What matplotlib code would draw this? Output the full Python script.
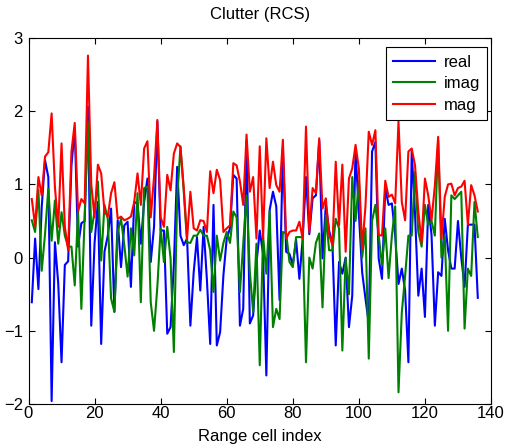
import matplotlib.pyplot as plt
import numpy as np

plt.rcParams['font.family'] = ['Liberation Sans', 'DejaVu Sans']

cell = np.arange(1, 137)

real = [
    -0.61, 0.26, -0.43, 0.69, 1.33, 1.10, -1.96, 0.21, -0.35, -1.43,
    -0.10, -0.05, 1.26, 1.77, 0.15, 0.47, 0.50, 2.06, -0.93, 0.20,
    0.76, -1.18, 0.08, 0.30, 0.67, -0.74, 0.51, -0.13, 0.44, 0.49,
    -0.40, 0.76, 0.74, 0.19, 0.76, 1.08, -0.06, 0.42, 1.86, 0.37,
    0.37, -1.04, -0.95, -0.10, 1.24, 0.30, 0.17, 0.26, -0.93, -0.20,
    0.28, -0.45, 0.42, -0.30, -1.18, 0.72, -1.20, -1.02, -0.24, 0.26,
    0.40, 1.13, 1.08, -0.93, -0.70, 1.60, -0.90, -0.79, -0.08, 0.37,
    0.05, -1.61, 0.65, 0.90, 0.70, -0.58, 1.50, 0.08, 0.05, -0.10,
    0.24, -0.29, 0.26, 1.10, 0.32, 0.81, 0.85, 1.60, -0.01, 0.72,
    0.37, 0.19, -1.20, -0.06, -0.22, 0.00, -0.95, -0.52, 1.47, 0.60,
    -0.20, -0.56, -0.90, 1.45, 1.58, -0.01, -0.29, 0.95, 0.72, 0.74,
    0.30, -0.36, -0.15, -0.45, -1.43, 1.45, 0.60, -0.52, -0.15, -0.81,
    0.72, 0.31, -0.93, -0.20, -0.25, 0.53, 0.10, -0.15, -0.15, 0.50,
    0.00, -0.40, 0.45, 0.45, 0.45, -0.55,
]

imag = [
    0.51, 0.35, 0.92, -0.18, 0.32, 0.94, 0.23, 0.78, 0.19, 0.62,
    0.30, 0.15, 0.15, -0.38, 0.63, -0.70, 0.55, 1.86, 0.35, 0.63,
    1.04, -0.04, 0.72, 0.53, -0.56, -0.74, 0.35, 0.53, 0.17, -0.26,
    0.40, 0.03, 0.88, -0.61, 0.95, 0.97, -0.61, -1.00, -0.40, 0.40,
    -0.06, 0.42, -0.01, -1.29, 0.81, 1.52, 0.90, 0.21, 0.20, 0.30,
    0.30, 0.38, 0.30, 0.30, 0.10, -0.47, 0.30, -0.04, 0.20, 0.35,
    0.20, 0.63, 0.55, -0.47, 0.20, 0.85, -0.20, -0.74, 0.19, -1.47,
    0.30, -0.22, 0.63, -0.95, -0.70, -0.84, 0.35, 0.33, -0.06, -0.13,
    0.28, 0.28, 0.28, -1.43, 0.00, -0.15, 0.20, 0.33, -0.68, 0.58,
    0.10, 0.10, 0.53, 0.40, -1.27, -0.01, -0.50, 1.10, 0.50, 1.05,
    0.00, 0.40, -1.38, 0.50, 0.72, 0.30, -0.10, 0.40, -0.28, 0.30,
    0.70, -1.84, -0.75, -0.25, 0.30, 0.30, 1.17, 0.35, 0.15, 0.72,
    0.45, 0.50, 0.30, 1.60, 0.00, 0.30, -1.00, 0.85, 0.80, 0.85,
    0.90, -0.97, -0.15, -0.25, 0.76, 0.28,
]

mag = [
    0.80, 0.43, 1.10, 0.85, 1.38, 1.44, 1.97, 0.96, 0.42, 1.56,
    0.42, 0.10, 1.45, 1.84, 0.63, 0.80, 0.74, 2.76, 1.00, 0.55,
    1.27, 1.15, 0.63, 0.56, 0.88, 1.03, 0.53, 0.56, 0.51, 0.53,
    0.56, 0.76, 1.15, 0.72, 1.49, 1.59, 0.55, 1.10, 1.88, 0.55,
    0.42, 1.13, 0.92, 1.42, 1.56, 1.51, 0.95, 0.26, 0.90, 0.40,
    0.37, 0.51, 0.50, 0.35, 1.18, 0.88, 1.20, 1.06, 0.35, 0.40,
    0.44, 1.29, 1.26, 1.04, 0.72, 1.68, 0.90, 1.10, 0.26, 1.52,
    0.26, 1.63, 0.95, 1.31, 0.99, 0.90, 1.61, 0.26, 0.35, 0.37,
    0.37, 0.49, 0.26, 1.79, 0.35, 0.95, 0.88, 1.63, 0.67, 0.81,
    0.31, 0.17, 1.31, 0.44, 1.27, 0.08, 1.08, 1.22, 1.54, 1.22,
    0.12, 0.70, 1.72, 1.54, 1.74, 0.31, 0.30, 1.05, 0.83, 0.86,
    0.74, 1.86, 0.76, 0.51, 1.45, 1.49, 1.26, 0.63, 0.21, 1.08,
    0.85, 0.51, 0.98, 1.65, 0.25, 0.83, 1.00, 1.01, 0.85, 0.95,
    0.97, 1.05, 0.45, 0.99, 0.85, 0.63,
]

fig = plt.figure(figsize=(5.05, 4.44), dpi=100)
ax = fig.add_axes([28.5 / 505, 1 - 404 / 444, 462.5 / 505, 366 / 444])

ax.plot(cell, real, color=(0, 0, 1), lw=1.5, label='real')
ax.plot(cell, imag, color=(0, 0.5, 0), lw=1.5, label='imag')
ax.plot(cell, mag, color=(1, 0, 0), lw=1.5, label='mag')

ax.set_xlim(0, 140)
ax.set_ylim(-2, 3)
ax.set_xticks(np.arange(0, 141, 20))
ax.set_yticks(np.arange(-2, 4, 1))
ax.tick_params(direction='in', top=True, right=True, length=4, labelsize=12)
ax.tick_params(axis='x', pad=1.5)
ax.tick_params(axis='y', pad=4)
for s in ax.spines.values():
    s.set_linewidth(0.8)

ax.set_title('Clutter (RCS)', fontsize=12, pad=14)
ax.set_xlabel('Range cell index', fontsize=12, labelpad=6)

leg = ax.legend(loc='upper right', bbox_to_anchor=(0.992, 0.975), fontsize=12,
                fancybox=False, edgecolor='black', framealpha=1,
                handlelength=2.5, handletextpad=0.5, borderaxespad=0,
                borderpad=0.45, labelspacing=0.4)
leg.get_frame().set_linewidth(0.8)

fig.savefig('out.png', dpi=100)
